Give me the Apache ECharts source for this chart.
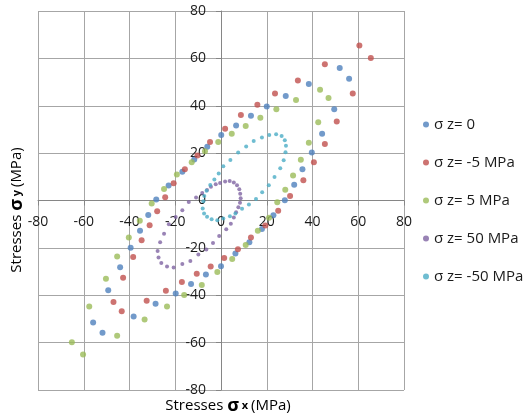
<!DOCTYPE html>
<html>
<head>
<meta charset="utf-8">
<script src="https://cdn.jsdelivr.net/npm/echarts@6/dist/echarts.min.js"></script>
<style>
  html, body { margin: 0; padding: 0; background: #ffffff; }
  #chart { width: 527px; height: 420px; }
</style>
</head>
<body>
<div id="chart"></div>
<script>
// Stress paths (σx, σy) in MPa for each out-of-plane stress σz
const seriesNames = ['σ z= 0', 'σ z= -5 MPa', 'σ z= 5 MPa', 'σ z= 50 MPa', 'σ z= -50 MPa'];

const szZero = [
  [-55.9,-51.5],[-49.3,-37.9],[-44.1,-28.2],[-39.5,-19.9],[-35.4,-12.8],[-31.8,-6.1],
  [-28.3,0.4],[-22.9,6.3],[-16.9,12.1],[-11.7,17.3],[-6.0,22.7],[0.1,27.7],
  [6.6,31.7],[13.1,35.8],[20.0,39.7],[28.3,44.1],[38.4,49.2],[51.9,55.9],
  [56.0,51.4],[49.5,38.5],[44.2,28.2],[39.7,20.3],[35.6,13.2],[32.0,6.6],
  [27.9,0.1],[22.9,-6.2],[17.9,-12.0],[12.4,-17.6],[6.3,-22.4],[0.0,-27.8],
  [-6.6,-31.2],[-13.1,-35.3],[-19.8,-39.3],[-28.6,-43.6],[-38.2,-49.0],[-51.8,-55.8]
];

const szMinus5 = [
  [-47.0,-42.9],[-42.8,-32.6],[-38.4,-23.8],[-34.7,-16.8],[-31.2,-10.4],[-27.9,-4.5],
  [-24.4,1.4],[-20.7,7.3],[-15.8,13.2],[-10.3,19.0],[-4.8,24.7],[1.8,30.3],
  [8.7,36.1],[15.9,40.4],[23.6,45.2],[33.6,50.7],[45.4,57.5],[60.5,65.4],
  [65.5,60.2],[57.6,45.2],[50.6,33.4],[45.4,23.9],[40.6,16.1],[36.0,8.6],
  [30.2,1.9],[25.0,-4.3],[19.4,-10.6],[13.1,-15.6],[7.4,-20.6],[1.4,-24.3],
  [-4.5,-27.9],[-10.6,-30.9],[-17.1,-34.4],[-24.1,-38.1],[-32.5,-42.3],[-43.4,-46.8]
];

const szPlus5 = [
  [-65.2,-59.8],[-57.6,-44.8],[-50.3,-33.0],[-45.4,-23.6],[-40.3,-15.6],[-35.5,-8.5],
  [-30.3,-1.3],[-24.9,4.9],[-19.3,11.0],[-12.8,16.1],[-7.0,20.8],[-1.2,24.7],
  [4.7,28.2],[10.8,31.4],[17.2,34.9],[24.2,38.5],[32.8,42.4],[43.3,46.8],
  [47.0,43.3],[42.5,33.0],[38.4,24.4],[34.9,17.2],[31.5,10.6],[28.1,4.5],
  [24.6,-0.7],[21.0,-7.3],[16.1,-12.8],[10.8,-18.8],[4.9,-24.7],[-1.6,-30.2],
  [-8.4,-35.7],[-16.1,-39.9],[-23.6,-44.8],[-33.4,-50.2],[-45.4,-57.1],[-60.3,-65.0]
];

const szPlus50 = [
  [-0.4,7.4],[1.8,8.0],[3.8,8.2],[5.6,7.6],[7.0,6.4],[8.0,4.7],
  [8.4,2.9],[8.6,0.9],[8.3,-1.0],[7.6,-2.9],[6.6,-5.0],[5.6,-7.2],
  [4.3,-9.8],[2.3,-12.1],[-0.8,-15.0],[-3.5,-17.9],[-6.4,-20.7],[-9.9,-22.8],
  [-13.4,-25.5],[-16.9,-26.8],[-20.7,-28.3],[-23.6,-27.9],[-26.1,-26.4],[-27.3,-24.1],
  [-27.7,-21.3],[-26.6,-17.6],[-24.9,-14.0],[-22.8,-10.0],[-19.8,-7.0],[-16.9,-4.1],
  [-14.1,-0.6],[-10.9,1.3],[-8.2,3.2],[-6.1,4.4],[-4.4,5.8],[-2.3,6.9]
];

const szMinus50 = [
  [-1.6,-8.3],[1.0,-7.6],[3.9,-6.6],[6.3,-5.5],[9.2,-3.5],[12.2,-1.7],
  [15.3,0.6],[18.0,3.5],[20.9,6.4],[23.4,9.9],[25.9,13.6],[27.4,17.0],
  [28.2,20.4],[28.4,23.1],[27.9,25.4],[26.5,27.2],[24.1,28.0],[21.1,27.6],
  [17.9,26.6],[14.3,25.1],[11.0,22.8],[7.5,20.3],[4.1,17.1],[1.0,14.5],
  [-1.0,11.4],[-2.9,8.9],[-4.7,6.5],[-6.3,4.1],[-7.3,1.9],[-7.7,-0.3],
  [-8.0,-3.4],[-7.4,-5.5],[-6.1,-6.9],[-4.1,-7.9]
];

const axisMin = -80;
const axisMax = 80;
const axisStep = 20;

const colors = ['#4F81BD', '#C0504D', '#9BBB59', '#8064A2', '#4BACC6'];
const FONT = 'Open Sans';
const TEXT = '#1a1a1a';

// plot rectangle
const G = { left: 38, right: 123, top: 11, bottom: 30 };
const W = 527, H = 420;
const plotW = W - G.left - G.right;
const plotH = H - G.top - G.bottom;
// shift that moves the tick-label axes onto the zero lines
const xLabelShift = -Math.round(plotH * (0 - axisMin) / (axisMax - axisMin));
const yLabelShift = -Math.round(plotW * (0 - axisMin) / (axisMax - axisMin));

const nameRich = {
  a: { fontFamily: FONT, fontSize: 15, color: TEXT },
  s: { fontFamily: FONT, fontSize: 18, fontWeight: 'bold', color: TEXT },
  v: { fontFamily: FONT, fontSize: 11, fontWeight: 'bold', color: TEXT }
};

const scale = { type: 'value', min: axisMin, max: axisMax, interval: axisStep };

// grid lines, zero-crossing axis lines and ticks
function lineAxis(showLabels) {
  return Object.assign({}, scale, {
    axisLine: { show: true, onZero: true, lineStyle: { color: '#868686', width: 1 } },
    axisTick: { show: true, length: 5, lineStyle: { color: '#868686', width: 1 } },
    splitLine: { show: true, lineStyle: { color: '#a6a6a6', width: 1 } },
    axisLabel: showLabels
      ? { show: true, fontFamily: FONT, fontSize: 14, color: TEXT, margin: 15 }
      : { show: false }
  });
}

// tick labels placed along the zero lines
function labelAxis(pos, shift) {
  return Object.assign({}, scale, {
    position: pos,
    offset: shift,
    axisLine: { show: false, onZero: false },
    axisTick: { show: false },
    splitLine: { show: false },
    axisLabel: { show: true, fontFamily: FONT, fontSize: 14, color: TEXT, margin: 15 }
  });
}

// axis titles
const axisTitles = [
  {
    type: 'text', x: 228, y: 406, z: 10,
    style: { text: '{a|Stresses }{s|σ}{v| x }{a|(MPa)}', rich: nameRich, align: 'center', verticalAlign: 'middle' }
  },
  {
    type: 'text', x: 17, y: 210, rotation: Math.PI / 2, z: 10,
    style: { text: '{a|Stresses }{s|σ}{v| y }{a|(MPa)}', rich: nameRich, align: 'center', verticalAlign: 'middle' }
  }
];

const allData = [szZero, szMinus5, szPlus5, szPlus50, szMinus50];

function makeSeries() {
  return allData.map((d, i) => ({
    name: seriesNames[i],
    type: 'scatter',
    xAxisIndex: 0,
    yAxisIndex: 0,
    data: d,
    symbol: 'circle',
    symbolSize: i < 3 ? 6 : 4,
    itemStyle: { color: colors[i] }
  }));
}

function makeLegend() {
  return {
    data: seriesNames,
    orient: 'vertical',
    left: 423,
    top: 117,
    padding: 0,
    icon: 'circle',
    itemWidth: 6,
    itemHeight: 6,
    itemGap: 23,
    textStyle: { fontFamily: FONT, fontSize: 15, color: TEXT }
  };
}

function buildOption(level) {
  const o = {
    animation: false,
    grid: { left: G.left, right: G.right, top: G.top, bottom: G.bottom, outerBoundsMode: 'none' },
    series: makeSeries(),
    legend: makeLegend()
  };
  if (level < 2) {
    o.xAxis = [lineAxis(false), labelAxis('bottom', xLabelShift)];
    o.yAxis = [lineAxis(false), labelAxis('left', yLabelShift)];
  } else {
    o.xAxis = lineAxis(true);
    o.yAxis = lineAxis(true);
  }
  if (level === 0) o.graphic = axisTitles;
  return o;
}

// whether the -60 grid line shows up on the canvas
function gridPainted(chart) {
  try {
    const zr = chart.getZr();
    if (zr && zr.refreshImmediately) zr.refreshImmediately();
    const canvas = chart.getDom().getElementsByTagName('canvas')[0];
    const px = canvas.getContext('2d').getImageData(78, 30, 12, 1).data;
    let darkest = 255;
    for (let i = 0; i < px.length; i += 4) darkest = Math.min(darkest, px[i], px[i + 1], px[i + 2]);
    return darkest < 235;
  } catch (e) {
    return true;
  }
}

const dom = document.getElementById('chart');
let chart = null;
for (let level = 0; level < 3; level++) {
  if (chart) chart.dispose();
  chart = echarts.init(dom);
  try {
    chart.setOption(buildOption(level));
  } catch (e) {
    continue;
  }
  if (level === 2 || gridPainted(chart)) break;
}
</script>
</body>
</html>
